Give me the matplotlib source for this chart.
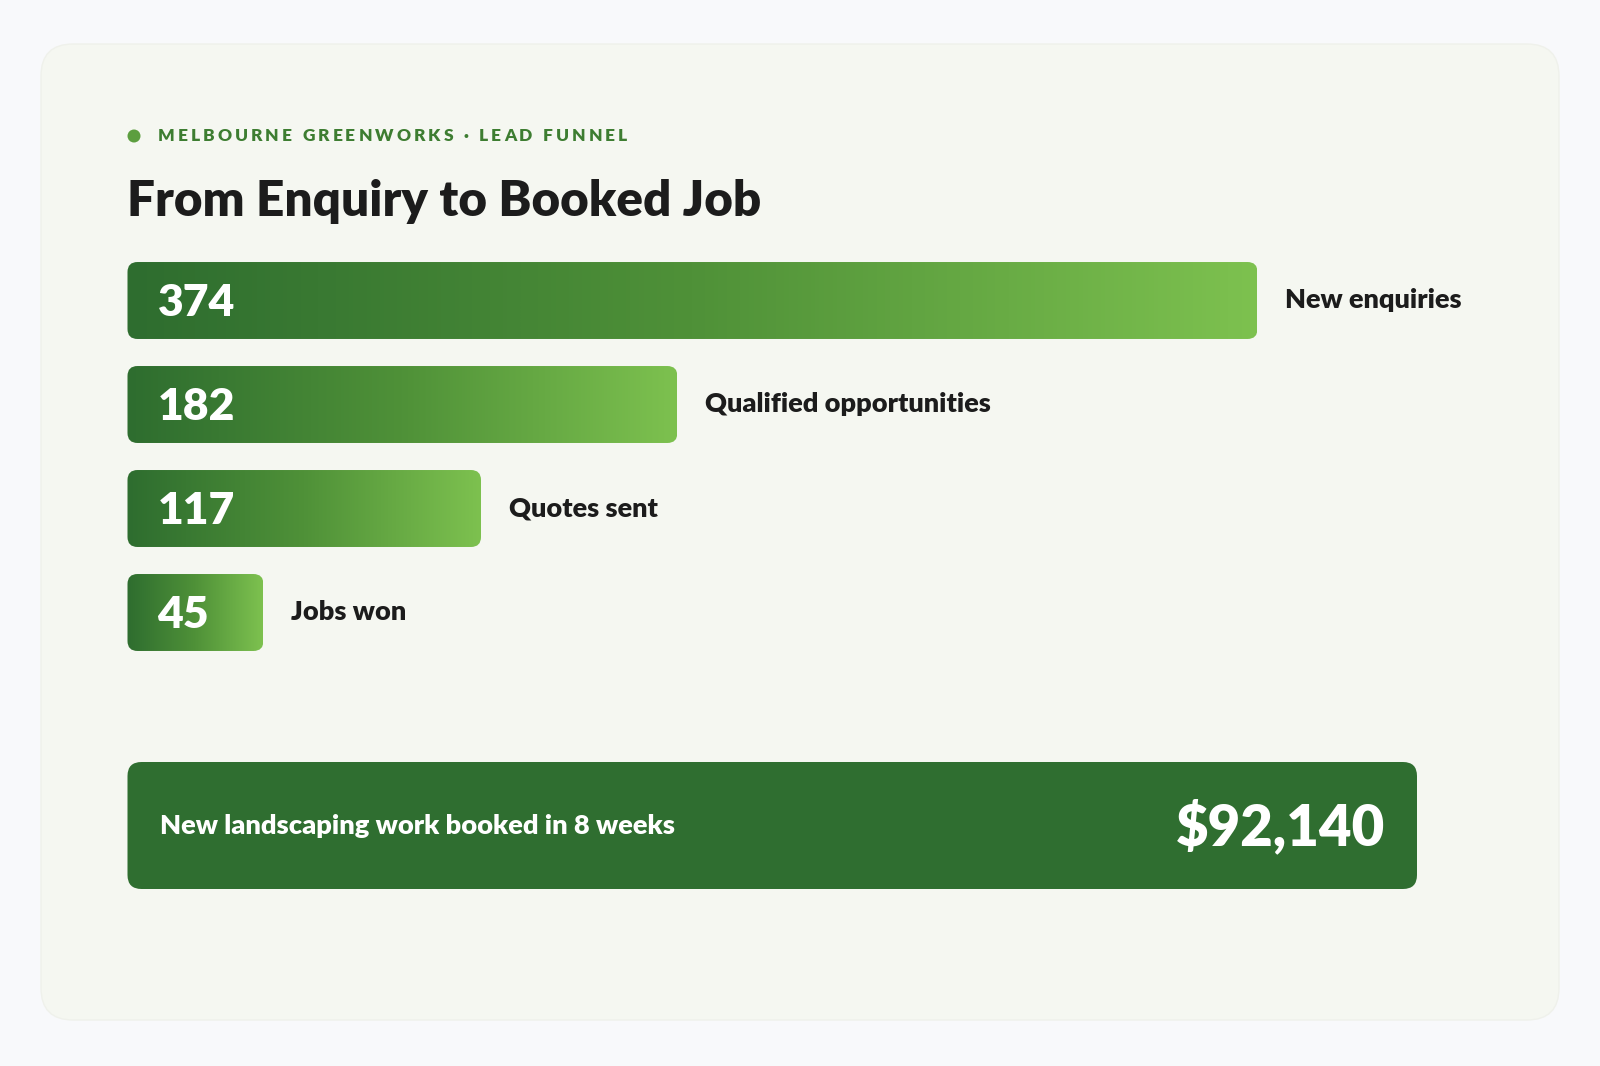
import matplotlib.pyplot as plt
import numpy as np
from matplotlib.colors import LinearSegmentedColormap
from matplotlib.patches import FancyBboxPatch, Circle

# funnel data
stages = ["New enquiries", "Qualified opportunities", "Quotes sent", "Jobs won"]
counts = [374, 182, 117, 45]
value_labels = ["374", "182", "117", "45"]

kicker = "MELBOURNE GREENWORKS \u00b7 LEAD FUNNEL"
title = "From Enquiry to Booked Job"
summary_text = "New landscaping work booked in 8 weeks"
summary_value = "$92,140"

W, H = 1600, 1066
BG = "#f8f9fb"
CARD = "#f5f7f1"
DARK = "#2e6d2f"
LIGHT = "#7dc14f"
INK = "#1c1c1c"
FONT = ["Lato", "DejaVu Sans"]
HEAVY = "heavy"

plt.rcParams["font.family"] = FONT

fig = plt.figure(figsize=(W / 100, H / 100), dpi=100, facecolor=BG)

# background axes in pixel coordinates for the card and the text blocks
bg = fig.add_axes([0, 0, 1, 1])
bg.set_xlim(0, W)
bg.set_ylim(H, 0)
bg.axis("off")

bg.add_patch(FancyBboxPatch((41, 44), 1518, 976,
                            boxstyle="round,pad=0,rounding_size=32",
                            fc=CARD, ec="#eff1eb", lw=1, zorder=1))

bg.add_patch(Circle((134, 136), 6.5, fc="#5c9e3f", ec="none", zorder=3))


def spaced_text(ax, x, y, s, spacing, **kw):
    # draw text one char at a time so we can add letter spacing
    r = fig.canvas.get_renderer()
    inv = ax.transData.inverted()
    for ch in s:
        t = ax.text(x, y, ch, **kw)
        bb = t.get_window_extent(renderer=r)
        x0 = inv.transform((bb.x0, bb.y0))[0]
        x1 = inv.transform((bb.x1, bb.y0))[0]
        if ch == " ":
            w = t.get_fontsize() * 0.35
        else:
            w = x1 - x0
        x += w + spacing


spaced_text(bg, 158, 136, kicker, 3.0, fontsize=12.5, fontweight=HEAVY,
            color="#3d7d31", va="center", ha="left", zorder=3)

bg.text(127, 202, title, fontsize=35.6, fontweight=HEAVY, color=INK,
        va="center", ha="left", zorder=3)

# summary box
bg.add_patch(FancyBboxPatch((127.5, 762), 1289.5, 127,
                            boxstyle="round,pad=0,rounding_size=14",
                            fc="#2f6e30", ec="none", zorder=2))
bg.text(160, 826, summary_text, fontsize=19.6, fontweight=HEAVY, color="white",
        va="center", ha="left", zorder=3)
bg.text(1385, 826, summary_value, fontsize=40.5, fontweight=HEAVY, color="white",
        va="center", ha="right", zorder=3)

# funnel axes: x in counts, y in stage index
px_left, px_w = 127.5, 1130.0
px_top, px_bot = 248.5, 664.5
ax = fig.add_axes([px_left / W, 1 - px_bot / H, px_w / W, (px_bot - px_top) / H])
ax.set_xlim(0, max(counts))
ax.set_ylim(len(stages) - 0.5, -0.5)
ax.axis("off")
ax.patch.set_alpha(0)

cmap = LinearSegmentedColormap.from_list("grn", [DARK, "#4f9138", LIGHT])
grad = np.linspace(0, 1, 256).reshape(1, -1)

bar_h = 0.74
px_per_x = px_w / max(counts)
px_per_y = (px_bot - px_top) / len(stages)
radius_px = 10
for i, (stage, c, lab) in enumerate(zip(stages, counts, value_labels)):
    y0 = i - bar_h / 2
    box = FancyBboxPatch((0, y0), c, bar_h,
                         boxstyle=f"round,pad=0,rounding_size={radius_px / px_per_x}",
                         mutation_aspect=px_per_x / px_per_y,
                         fc="none", ec="none", zorder=2)
    ax.add_patch(box)
    im = ax.imshow(grad, cmap=cmap, aspect="auto", extent=(0, c, y0 + bar_h, y0),
                   interpolation="bicubic", zorder=2)
    im.set_clip_path(box)
    ax.annotate(lab, xy=(0, i), xytext=(30, -2), textcoords="offset pixels",
                fontsize=32, fontweight=HEAVY, color="white",
                ha="left", va="center", zorder=4)
    ax.annotate(stage, xy=(c, i), xytext=(28, 0), textcoords="offset pixels",
                fontsize=19.5, fontweight=HEAVY, color=INK,
                ha="left", va="center", annotation_clip=False, zorder=4)

ax.set_xlim(0, max(counts))
ax.set_ylim(len(stages) - 0.5, -0.5)

fig.savefig("out.png", dpi=100, facecolor=BG)
